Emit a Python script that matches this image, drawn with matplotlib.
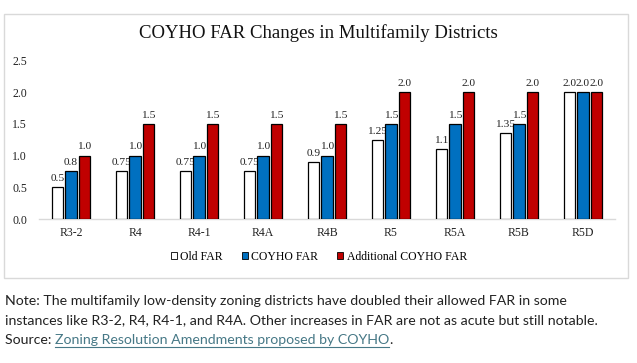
import matplotlib
matplotlib.use("Agg")
import matplotlib.pyplot as plt
import numpy as np
from matplotlib.patches import Patch, Rectangle

districts = ["R3-2", "R4", "R4-1", "R4A", "R4B", "R5", "R5A", "R5B", "R5D"]
old_far = [0.5, 0.75, 0.75, 0.75, 0.9, 1.25, 1.1, 1.35, 2.0]
coyho_far = [0.75, 1.0, 1.0, 1.0, 1.0, 1.5, 1.5, 1.5, 2.0]
additional_far = [1.0, 1.5, 1.5, 1.5, 1.5, 2.0, 2.0, 2.0, 2.0]
old_labels = ["0.5", "0.75", "0.75", "0.75", "0.9", "1.25", "1.1", "1.35", "2.0"]
coyho_labels = ["0.8", "1.0", "1.0", "1.0", "1.0", "1.5", "1.5", "1.5", "2.0"]
additional_labels = ["1.0", "1.5", "1.5", "1.5", "1.5", "2.0", "2.0", "2.0", "2.0"]
yticks = [0.0, 0.5, 1.0, 1.5, 2.0, 2.5]

serif = "Liberation Serif"
W, H = 637, 363

fig = plt.figure(figsize=(W / 100, H / 100), dpi=100)

# chart frame
fig.patches.append(Rectangle((4 / W, 1 - 278 / H), 624 / W, 264 / H,
                             transform=fig.transFigure, fill=False,
                             edgecolor="#D9D9D9", linewidth=1.0))

ax = fig.add_axes([39 / W, 1 - 219 / H, 576 / W, 158.5 / H])

x = np.arange(len(districts))
w = 0.18
step = 0.21
series = [
    (old_far, old_labels, "white", "Old FAR"),
    (coyho_far, coyho_labels, "#0070C0", "COYHO FAR"),
    (additional_far, additional_labels, "#C00000", "Additional COYHO FAR"),
]
for i, (vals, labs, col, name) in enumerate(series):
    xs = x + (i - 1) * step
    ax.bar(xs, vals, width=w, color=col, edgecolor="black", linewidth=0.9, zorder=3)
    for xi, v, lab in zip(xs, vals, labs):
        ax.annotate(lab, (xi, v), xytext=(0, 3), textcoords="offset points",
                    ha="center", va="bottom", fontsize=8.2, family=serif,
                    color="#222222")

ax.set_xlim(-0.5, len(districts) - 0.5)
ax.set_ylim(0, 2.5)
ax.set_yticks(yticks)
ax.set_yticklabels([f"{t:.1f}" for t in yticks])
ax.set_xticks(x)
ax.set_xticklabels(districts)
for lab in ax.get_xticklabels() + ax.get_yticklabels():
    lab.set_fontfamily(serif)
    lab.set_fontsize(8.5)
    lab.set_color("#222222")
ax.tick_params(axis="both", length=0)
ax.tick_params(axis="x", pad=6)
ax.tick_params(axis="y", pad=8.5)
for s in ["top", "right", "left"]:
    ax.spines[s].set_visible(False)
ax.spines["bottom"].set_color("#D9D9D9")
ax.spines["bottom"].set_linewidth(1.0)

fig.text(0.5, 1 - 33 / H, "COYHO FAR Changes in Multifamily Districts",
         ha="center", va="center", fontsize=13.5, family=serif, color="#111111")

handles = [Patch(facecolor=c, edgecolor="black", linewidth=0.6, label=n)
           for _, _, c, n in series]
fig.legend(handles=handles, loc="center", bbox_to_anchor=(319 / W, 1 - 257 / H),
           ncol=3, frameon=False, prop={"family": serif, "size": 8.5},
           handlelength=0.5, handleheight=0.5, handletextpad=0.3,
           columnspacing=1.6, borderpad=0)

# note below the chart
note_font = "Lato"
fs = 10.2
fig.text(5 / W, 1 - 305 / H,
         "Note: The multifamily low-density zoning districts have doubled their allowed FAR in some",
         ha="left", va="baseline", fontsize=fs, family=note_font, color="#222222")
fig.text(5 / W, 1 - 324.5 / H,
         "instances like R3-2, R4, R4-1, and R4A. Other increases in FAR are not as acute but still notable.",
         ha="left", va="baseline", fontsize=fs, family=note_font, color="#222222")
src = fig.text(5 / W, 1 - 344 / H, "Source: ", ha="left", va="baseline",
               fontsize=fs, family=note_font, color="#222222")
r = fig.canvas.get_renderer()
bb = src.get_window_extent(r)
link = fig.text(bb.x1 / W, 1 - 344 / H, "Zoning Resolution Amendments proposed by COYHO",
                ha="left", va="baseline", fontsize=fs, family=note_font, color="#467886")
lb = link.get_window_extent(r)
fig.add_artist(plt.Line2D([lb.x0 / W, lb.x1 / W], [(H - 346.5) / H] * 2,
                          transform=fig.transFigure, color="#467886", linewidth=0.8))
fig.text(lb.x1 / W, 1 - 344 / H, ".", ha="left", va="baseline",
         fontsize=fs, family=note_font, color="#222222")

fig.savefig("out.png", dpi=100, facecolor="white")
